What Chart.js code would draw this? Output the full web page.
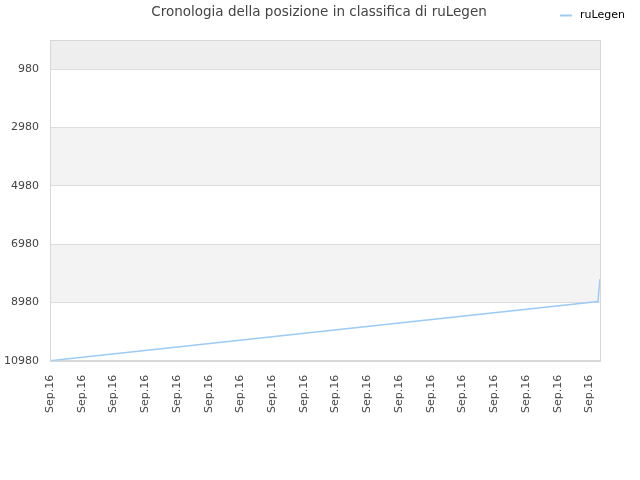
<!DOCTYPE html>
<html><head><meta charset="utf-8">
<script src="https://cdn.jsdelivr.net/npm/chart.js@4/dist/chart.umd.min.js"></script>
<style>html,body{margin:0;padding:0;background:#fff}#wrap{width:640px;height:480px;position:relative}</style>
</head><body><div id="wrap"><canvas id="c" width="640" height="480"></canvas></div>
<script>
const seriesName = "ruLegen";
const titleText = "Cronologia della posizione in classifica di ruLegen";
const xValues = [0, 518, 519, 520];
const rankValues = [10980, 8950, 8560, 8180];
const yTicks = [980, 2980, 4980, 6980, 8980, 10980];
const xTickLabel = "Sep.16";
const lineColor = '#9ecbf5';

const bandPlugin = {
  id: 'bands',
  beforeDraw(chart) {
    const {ctx, chartArea: a, scales: {y}} = chart;
    ctx.save();
    const edges = [y.min].concat(yTicks);
    for (let i = 0; i < edges.length - 1; i++) {
      const y1 = y.getPixelForValue(edges[i]), y2 = y.getPixelForValue(edges[i+1]);
      let col = null;
      if (i === 0) col = '#eeeeee';
      else if (i % 2 === 0) col = '#f3f3f3';
      if (col) { ctx.fillStyle = col; ctx.fillRect(a.left, y1, a.right - a.left, y2 - y1); }
    }
    ctx.restore();
  },
  afterDraw(chart) {
    const {ctx, chartArea: a} = chart;
    ctx.save();
    ctx.strokeStyle = '#d8d8d8'; ctx.lineWidth = 1;
    ctx.strokeRect(Math.round(a.left) + 0.5, Math.round(a.top) + 0.5, Math.round(a.right - a.left), Math.round(a.bottom - a.top));
    // title
    ctx.fillStyle = '#444'; ctx.font = '13.5px "DejaVu Sans"'; ctx.textBaseline = 'middle'; ctx.textAlign = 'center';
    ctx.fillText(titleText, 319, 12);
    // legend
    ctx.strokeStyle = lineColor; ctx.lineWidth = 2;
    ctx.beginPath(); ctx.moveTo(560, 15.5); ctx.lineTo(572, 15.5); ctx.stroke();
    ctx.fillStyle = '#000'; ctx.font = '11px "DejaVu Sans"'; ctx.textBaseline = 'middle'; ctx.textAlign = 'left';
    ctx.fillText(chart.data.datasets[0].label, 580, 15);
    ctx.restore();
  }
};

new Chart(document.getElementById('c'), {
  type: 'line',
  data: {
    datasets: [{
      label: seriesName,
      data: xValues.map((x, i) => ({x: x, y: rankValues[i]})),
      borderColor: lineColor,
      backgroundColor: lineColor,
      borderWidth: 1.5,
      pointRadius: 0,
      tension: 0,
      fill: false
    }]
  },
  options: {
    responsive: false,
    animation: false,
    layout: {padding: {left: 5, right: 40, top: 40, bottom: 53}},
    plugins: {
      title: {display: false},
      legend: {display: false},
      tooltip: {enabled: false}
    },
    scales: {
      x: {
        type: 'linear', min: 0, max: 520,
        grid: {display: false, drawTicks: false},
        border: {color: '#d8d8d8'},
        ticks: {stepSize: 30, includeBounds: false, autoSkip: false, maxRotation: 90, minRotation: 90,
          color: '#444', font: {family: 'DejaVu Sans', size: 11}, padding: 14,
          callback: () => xTickLabel}
      },
      y: {
        reverse: true, min: -20, max: 10980,
        afterBuildTicks: (s) => { s.ticks = yTicks.map(v => ({value: v})); },
        afterFit: (s) => { s.width = 45; },
        grid: {color: '#dddddd', drawTicks: false},
        border: {color: '#d8d8d8'},
        ticks: {color: '#444', font: {family: 'DejaVu Sans', size: 11}, padding: 11, callback: (v) => String(v)}
      }
    }
  },
  plugins: [bandPlugin]
});
</script></body></html>
